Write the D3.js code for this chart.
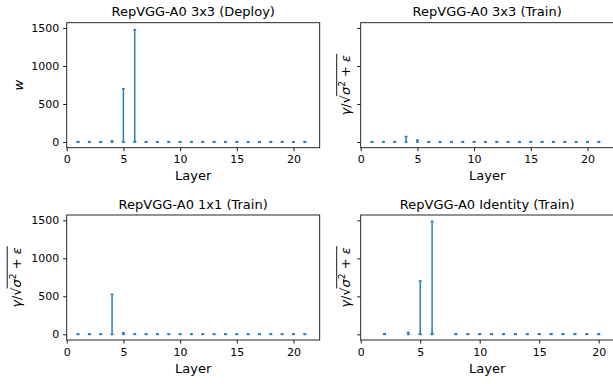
<!DOCTYPE html>
<html>
<head>
<meta charset="utf-8">
<script src="https://cdn.jsdelivr.net/npm/d3@7"></script>
<style>
  body { margin: 0; background: #fff; }
  svg { display: block; }
  text { font-family: "DejaVu Sans", sans-serif; fill: #000; }
</style>
</head>
<body>
<div id="chart"></div>
<script>
// layers shown in the panels
const layers = [1, 2, 3, 4, 5, 6, 7, 8, 9, 10, 11, 12, 13, 14, 15, 16, 17, 18, 19, 20, 21];
const identityLayers = [2, 4, 5, 6, 8, 9, 10, 11, 12, 13, 14, 15, 16, 17, 18, 19, 20];

// min / max of each layer's values (violin extrema) and height of the visible body
const deployMin = [-2, -2, -2, -2, -3, -3, -2, -2, -2, -2, -2, -2, -2, -2, -2, -2, -2, -2, -2, -2, -2];
const deployMax = [5, 5, 5, 16, 700, 1478, 5, 5, 5, 5, 5, 5, 5, 5, 5, 5, 5, 5, 5, 5, 5];
const deployBody = [0, 0, 0, 0, 35, 50, 0, 0, 0, 0, 0, 0, 0, 0, 0, 0, 0, 0, 0, 0, 0];

const train3Min = [-2, -2, -2, -3, -2, -2, -2, -2, -2, -2, -2, -2, -2, -2, -2, -2, -2, -2, -2, -2, -2];
const train3Max = [5, 5, 5, 72, 24, 5, 5, 5, 5, 5, 5, 5, 5, 5, 5, 5, 5, 5, 5, 5, 5];
const train3Body = [0, 0, 0, 10, 0, 0, 0, 0, 0, 0, 0, 0, 0, 0, 0, 0, 0, 0, 0, 0, 0];

const train1Min = [-2, -2, -2, -3, -2, -2, -2, -2, -2, -2, -2, -2, -2, -2, -2, -2, -2, -2, -2, -2, -2];
const train1Max = [5, 5, 5, 527, 20, 5, 5, 5, 5, 5, 5, 5, 5, 5, 5, 5, 5, 5, 5, 5, 5];
const train1Body = [0, 0, 0, 30, 0, 0, 0, 0, 0, 0, 0, 0, 0, 0, 0, 0, 0, 0, 0, 0, 0];

const identMin = [-2, -2, -3, -3, -2, -2, -2, -2, -2, -2, -2, -2, -2, -2, -2, -2, -2];
const identMax = [8, 24, 702, 1487, 6, 6, 6, 6, 6, 6, 6, 6, 6, 6, 6, 6, 6];
const identBody = [0, 0, 50, 75, 0, 0, 0, 0, 0, 0, 0, 0, 0, 0, 0, 0, 0];

const xTicks = [0, 5, 10, 15, 20];
const yTicks = [0, 500, 1000, 1500];
const yLimits = [-75, 1570];

const panels = [
  { title: 'RepVGG-A0 3x3 (Deploy)', xs: layers, mins: deployMin, maxs: deployMax, body: deployBody,
    xMax: 22.31, yLabel: 'w', tickLabels: true, left: 66.7, top: 22.7 },
  { title: 'RepVGG-A0 3x3 (Train)', xs: layers, mins: train3Min, maxs: train3Max, body: train3Body,
    xMax: 22.31, yLabel: 'bn', tickLabels: false, left: 360.7, top: 22.7 },
  { title: 'RepVGG-A0 1x1 (Train)', xs: layers, mins: train1Min, maxs: train1Max, body: train1Body,
    xMax: 22.31, yLabel: 'bn', tickLabels: true, left: 66.7, top: 215 },
  { title: 'RepVGG-A0 Identity (Train)', xs: identityLayers, mins: identMin, maxs: identMax, body: identBody,
    xMax: 21.26, yLabel: 'bn', tickLabels: false, left: 360.7, top: 215 }
];

const width = 613, height = 384;
const W = 253, H = 125;
const blue = '#1f77b4';

const svg = d3.select('#chart').append('svg')
  .attr('width', width)
  .attr('height', height);

panels.forEach(p => {
  const x = d3.scaleLinear().domain([0, p.xMax]).range([p.left, p.left + W]);
  const y = d3.scaleLinear().domain(yLimits).range([p.top + H, p.top]);
  const g = svg.append('g');

  // violin bodies
  const half = 0.25;
  p.xs.forEach((lx, i) => {
    if (!p.body[i]) return;
    const b0 = p.mins[i], b1 = p.mins[i] + p.body[i];
    const pts = [[-half * 0.6, b0], [-half, b0 + (b1 - b0) * 0.12], [-half * 0.45, b0 + (b1 - b0) * 0.45],
                 [-half * 0.1, b1], [half * 0.1, b1], [half * 0.45, b0 + (b1 - b0) * 0.45],
                 [half, b0 + (b1 - b0) * 0.12], [half * 0.6, b0]];
    g.append('path')
      .attr('d', d3.line().curve(d3.curveCatmullRomClosed)(pts.map(d => [x(lx + d[0]), y(d[1])])))
      .attr('fill', blue)
      .attr('fill-opacity', 0.3)
      .attr('stroke', 'none');
  });

  // bars and caps
  const marks = g.append('g').attr('stroke', blue).attr('stroke-width', 1.4);
  p.xs.forEach((lx, i) => {
    marks.append('line')
      .attr('x1', x(lx)).attr('x2', x(lx))
      .attr('y1', y(p.mins[i])).attr('y2', y(p.maxs[i]));
    [p.mins[i], p.maxs[i]].forEach(v => {
      marks.append('line')
        .attr('x1', x(lx - 0.125)).attr('x2', x(lx + 0.125))
        .attr('y1', y(v)).attr('y2', y(v));
    });
  });

  // axes
  const xAxis = g.append('g')
    .attr('transform', `translate(0,${p.top + H})`)
    .call(d3.axisBottom(x).tickValues(xTicks).tickSizeOuter(0).tickSize(3.5).tickPadding(4.5));
  const yAxis = g.append('g')
    .attr('transform', `translate(${p.left},0)`)
    .call(d3.axisLeft(y).tickValues(yTicks).tickSizeOuter(0).tickSize(3.5).tickPadding(4)
      .tickFormat(p.tickLabels ? d3.format('d') : () => ''));
  [xAxis, yAxis].forEach(a => {
    a.select('.domain').remove();
    a.selectAll('line').attr('stroke', '#000').attr('stroke-width', 0.9);
    a.selectAll('text').style('font-size', '11px').attr('fill', '#000');
  });

  g.append('rect')
    .attr('x', p.left).attr('y', p.top)
    .attr('width', W).attr('height', H)
    .attr('fill', 'none')
    .attr('stroke', '#111')
    .attr('stroke-width', 0.9);

  g.append('text')
    .attr('x', p.left + W / 2).attr('y', p.top - 6.5)
    .attr('text-anchor', 'middle')
    .style('font-size', '13px')
    .text(p.title);

  g.append('text')
    .attr('x', p.left + W / 2).attr('y', p.top + H + 32.5)
    .attr('text-anchor', 'middle')
    .style('font-size', '13px')
    .text('Layer');

  // y label
  const cy = p.top + H / 2;
  if (p.yLabel === 'w') {
    g.append('text')
      .attr('transform', `translate(${p.left - 43.4},${cy}) rotate(-90)`)
      .attr('text-anchor', 'middle')
      .style('font-size', '13px')
      .style('font-style', 'italic')
      .text('w');
  } else {
    const bx = p.tickLabels ? p.left - 46 : p.left - 10.5;
    const lg = g.append('g').attr('transform', `translate(${bx},${cy}) rotate(-90)`);
    const t = lg.append('text').attr('text-anchor', 'middle').style('font-size', '13px');
    t.append('tspan').style('font-style', 'italic').text('γ');
    t.append('tspan').text('/√');
    t.append('tspan').style('font-style', 'italic').text('σ');
    t.append('tspan').attr('dy', -5).style('font-size', '9px').text('2');
    t.append('tspan').attr('dy', 5).text(' + ');
    t.append('tspan').style('font-style', 'italic').text('ε');
    const node = t.node();
    const total = node.getComputedTextLength();
    const sx = node.getStartPositionOfChar(2).x + node.getSubStringLength(2, 1) - 1;
    lg.append('line')
      .attr('x1', sx).attr('x2', total / 2 + 1)
      .attr('y1', -13.5).attr('y2', -13.5)
      .attr('stroke', '#000')
      .attr('stroke-width', 0.9);
  }
});
</script>
</body>
</html>
